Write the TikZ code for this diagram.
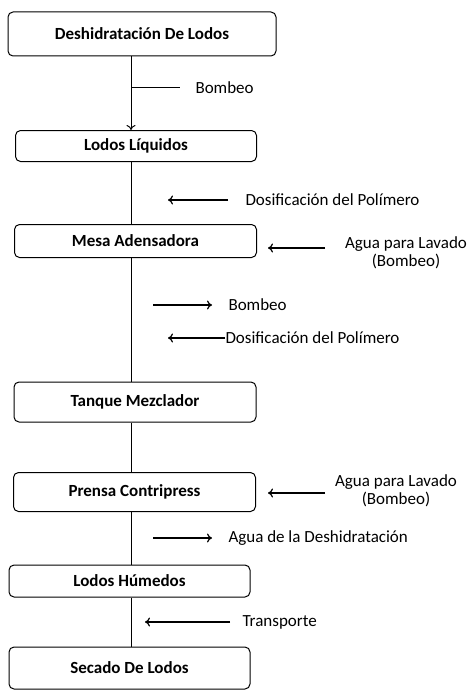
\documentclass[tikz,border=0pt]{standalone}
\usepackage{fontspec}
\setmainfont{Carlito}
\usetikzlibrary{arrows.meta}
\tikzset{
  etapa/.style={draw, line width=1pt, rounded corners=5pt, minimum width=242pt, minimum height=33pt, inner sep=0pt, font=\bfseries\fontsize{17}{19}\selectfont},
  nota/.style={inner sep=0pt, anchor=west, font=\fontsize{17}{18.5}\selectfont},
  flujo/.style={-{To[length=5pt,width=9pt]}, line width=1.2pt}
}

\begin{document}
\begin{tikzpicture}[x=1pt,y=-1pt,line width=1pt]
\useasboundingbox (0,0) rectangle (468,690);
\coordinate (eje) at (131,0);
\node[etapa, minimum width=268pt, minimum height=44pt] (deshid) at (142,34) {Deshidratación De Lodos};
\node[etapa, minimum width=241pt, minimum height=31pt] (liquidos) at (136,146) {Lodos Líquidos};
\node[etapa] (mesa) at (135.5,241) {Mesa Adensadora};
\node[etapa, minimum height=40pt] (tanque) at (135,402) {Tanque Mezclador};
\node[etapa, minimum height=39pt] (prensa) at (134.5,492) {Prensa Contripress};
\node[etapa, minimum width=241pt, minimum height=32pt] (humedos) at (129.5,581) {Lodos Húmedos};
\node[etapa, minimum width=241pt, minimum height=42pt] (secado) at (129.5,668) {Secado De Lodos};
\draw[flujo, line width=1pt] (deshid.south -| eje) -- (liquidos.north -| eje);
\draw (liquidos.south -| eje) -- (mesa.north -| eje);
\draw (mesa.south -| eje) -- (tanque.north -| eje);
\draw (tanque.south -| eje) -- (prensa.north -| eje);
\draw (prensa.south -| eje) -- (humedos.north -| eje);
\draw (humedos.south -| eje) -- (secado.north -| eje);
\node[nota] (bomb1) at (195,88) {Bombeo};
\draw[shorten >=15pt] (bomb1.west -| eje) -- (bomb1.west);
\node[nota] (dosif1) at (245,200) {Dosificación del Polímero};
\coordinate (d1) at (168,200);
\draw[flujo, shorten <=17pt] (dosif1.west) -- (d1);
\node[nota, align=center, anchor=center] (lavado1) at (406,253) {Agua para Lavado\\(Bombeo)};
\coordinate (l1) at (325,248);
\draw[flujo, shorten >=11pt] (l1) -- (l1 -| mesa.east);
\node[nota] (bomb2) at (228,305) {Bombeo};
\coordinate (b2) at (153,305);
\draw[flujo, shorten >=16pt] (b2) -- (bomb2.west);
\node[nota] (dosif2) at (225,338) {Dosificación del Polímero};
\coordinate (d2) at (168,338);
\draw[flujo] (dosif2.west) -- (d2);
\node[nota, align=center, anchor=center] (lavado2) at (396,491) {Agua para Lavado\\(Bombeo)};
\coordinate (l2) at (325,493);
\draw[flujo, shorten >=12pt] (l2) -- (l2 -| prensa.east);
\node[nota] (aguad) at (228,538) {Agua de la Deshidratación};
\coordinate (a1) at (153,538);
\draw[flujo, shorten >=16pt] (a1) -- (aguad.west);
\node[nota] (transp) at (242,622) {Transporte};
\coordinate (t1) at (145,622);
\draw[flujo, shorten <=12pt] (transp.west) -- (t1);
\end{tikzpicture}
\end{document}
